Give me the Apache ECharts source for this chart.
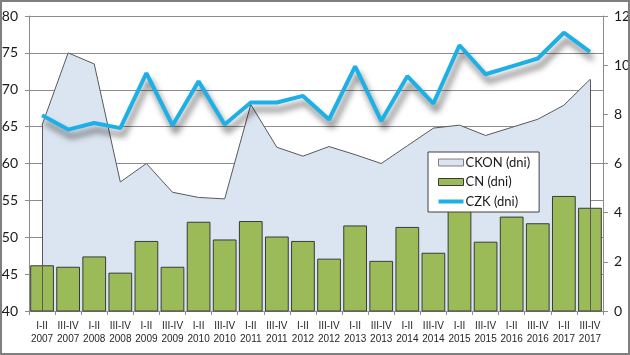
<!DOCTYPE html>
<html>
<head>
<meta charset="utf-8">
<script src="https://cdn.jsdelivr.net/npm/echarts@6/dist/echarts.min.js"></script>
<style>
  html, body { margin: 0; padding: 0; background: #fff; }
  #chart { width: 630px; height: 355px; }
</style>
</head>
<body>
<div id="chart"></div>
<script>
// ---- data ----
const categories = [
  'I-II\n2007', 'III-IV\n2007', 'I-II\n2008', 'III-IV\n2008', 'I-II\n2009', 'III-IV\n2009',
  'I-II\n2010', 'III-IV\n2010', 'I-II\n2011', 'III-IV\n2011', 'I-II\n2012', 'III-IV\n2012',
  'I-II\n2013', 'III-IV\n2013', 'I-II\n2014', 'III-IV\n2014', 'I-II\n2015', 'III-IV\n2015',
  'I-II\n2016', 'III-IV\n2016', 'I-II\n2017', 'III-IV\n2017'
];
const ckon = [65.2, 75.0, 73.5, 57.5, 60.0, 56.1, 55.4, 55.2, 68.0, 62.2, 61.0, 62.3,
              61.2, 60.0, 62.4, 64.8, 65.2, 63.8, 64.9, 66.0, 67.9, 71.4];
const cn = [46.2, 46.0, 47.4, 45.2, 49.5, 46.0, 52.1, 49.7, 52.2, 50.1, 49.5, 47.1,
            51.6, 46.8, 51.4, 47.9, 55.0, 49.4, 52.8, 51.9, 55.6, 54.0];
const czk = [7.96, 7.38, 7.65, 7.44, 9.68, 7.55, 9.34, 7.59, 8.48, 8.48, 8.75, 7.79,
             9.95, 7.73, 9.55, 8.44, 10.81, 9.63, 9.95, 10.27, 11.32, 10.54];
const seriesNames = ['CKON (dni)', 'CN (dni)', 'CZK (dni)'];
const leftTicks = { min: 40, max: 80, step: 5 };
const rightTicks = { min: 0, max: 12, step: 2 };

// ---- chart ----
const FONT = 'Lato, "Liberation Sans", sans-serif';
const NARROW = '"Liberation Sans", Arial, sans-serif';
const GRID_COLOR = '#8c8c8c';
const chart = echarts.init(document.getElementById('chart'), null, { renderer: 'canvas' });
const lastIdx = ckon.length - 1;

chart.setOption({
  animation: false,
  backgroundColor: '#ffffff',
  textStyle: { fontFamily: FONT },
  grid: { left: 29, right: 27, top: 16, bottom: 44, containLabel: false, outerBoundsMode: 'none' },
  graphic: [{
    type: 'rect',
    shape: { x: 1, y: 1, width: 628, height: 353 },
    style: { fill: null, stroke: '#7f7f7f', lineWidth: 2 },
    silent: true, z: 100
  }],
  legend: {
    orient: 'vertical',
    left: 428,
    top: 152,
    padding: [4, 9, 4, 10],
    itemGap: 6.5,
    itemWidth: 25,
    itemHeight: 7,
    symbolKeepAspect: true,
    backgroundColor: '#ffffff',
    borderColor: '#404040',
    borderWidth: 1,
    textStyle: { fontFamily: FONT, fontSize: 13, color: '#1a1a1a', padding: [0, 0, 0, -3] },
    data: [
      { name: seriesNames[0], icon: 'rect', itemStyle: { color: '#dbe5f1', borderColor: '#7f7f7f', borderWidth: 1 } },
      { name: seriesNames[1], icon: 'rect', itemStyle: { color: '#9bbb59', borderColor: '#3a3a3a', borderWidth: 1 } },
      { name: seriesNames[2], icon: 'path://M0,0 L25,0 L25,4 L0,4 Z',
        itemStyle: { color: '#1cb0e6', borderWidth: 0, shadowBlur: 0, shadowColor: 'transparent' } }
    ]
  },
  xAxis: {
    type: 'category',
    data: categories,
    boundaryGap: true,
    axisLine: { show: true, lineStyle: { color: GRID_COLOR, width: 1 } },
    axisTick: { show: true, alignWithLabel: false, length: 4, lineStyle: { color: GRID_COLOR } },
    axisLabel: { interval: 0, fontFamily: NARROW, fontSize: 10, lineHeight: 12.5, margin: 9, color: '#262626' }
  },
  yAxis: [
    {
      type: 'value', position: 'left', min: leftTicks.min, max: leftTicks.max, interval: leftTicks.step,
      axisLine: { show: true, lineStyle: { color: GRID_COLOR, width: 1 } },
      axisTick: { show: true, length: 4, lineStyle: { color: GRID_COLOR } },
      splitLine: { show: true, lineStyle: { color: GRID_COLOR, width: 1 } },
      axisLabel: { fontFamily: FONT, fontSize: 14, margin: 11, color: '#1a1a1a' }
    },
    {
      type: 'value', position: 'right', min: rightTicks.min, max: rightTicks.max, interval: rightTicks.step,
      axisLine: { show: true, lineStyle: { color: GRID_COLOR, width: 1 } },
      axisTick: { show: true, length: 5, lineStyle: { color: GRID_COLOR } },
      splitLine: { show: false },
      axisLabel: { fontFamily: FONT, fontSize: 14, margin: 11, color: '#1a1a1a' }
    }
  ],
  series: [
    {
      name: seriesNames[0],
      type: 'line',
      yAxisIndex: 0,
      data: ckon,
      symbol: 'none',
      lineStyle: { color: '#595959', width: 1 },
      itemStyle: { color: '#dbe5f1' },
      areaStyle: { color: '#dbe5f1', opacity: 1, origin: 'start' },
      markLine: {
        silent: true,
        symbol: 'none',
        label: { show: false },
        lineStyle: { color: '#595959', width: 1, type: 'solid' },
        data: [
          [{ coord: [0, leftTicks.min] }, { coord: [0, ckon[0]] }],
          [{ coord: [lastIdx, leftTicks.min] }, { coord: [lastIdx, ckon[lastIdx]] }]
        ]
      },
      z: 1
    },
    {
      name: seriesNames[1],
      type: 'bar',
      yAxisIndex: 0,
      data: cn,
      barCategoryGap: '9%',
      itemStyle: { color: '#9bbb59', borderColor: '#3a3a3a', borderWidth: 1 },
      clip: true,
      z: 2
    },
    {
      name: seriesNames[2],
      type: 'line',
      yAxisIndex: 1,
      data: czk,
      symbol: 'none',
      itemStyle: { color: '#1cb0e6' },
      lineStyle: {
        color: '#1cb0e6', width: 4,
        shadowColor: 'rgba(0,0,0,0.55)', shadowBlur: 6, shadowOffsetX: 3, shadowOffsetY: 7
      },
      z: 3
    }
  ]
});
</script>
</body>
</html>
